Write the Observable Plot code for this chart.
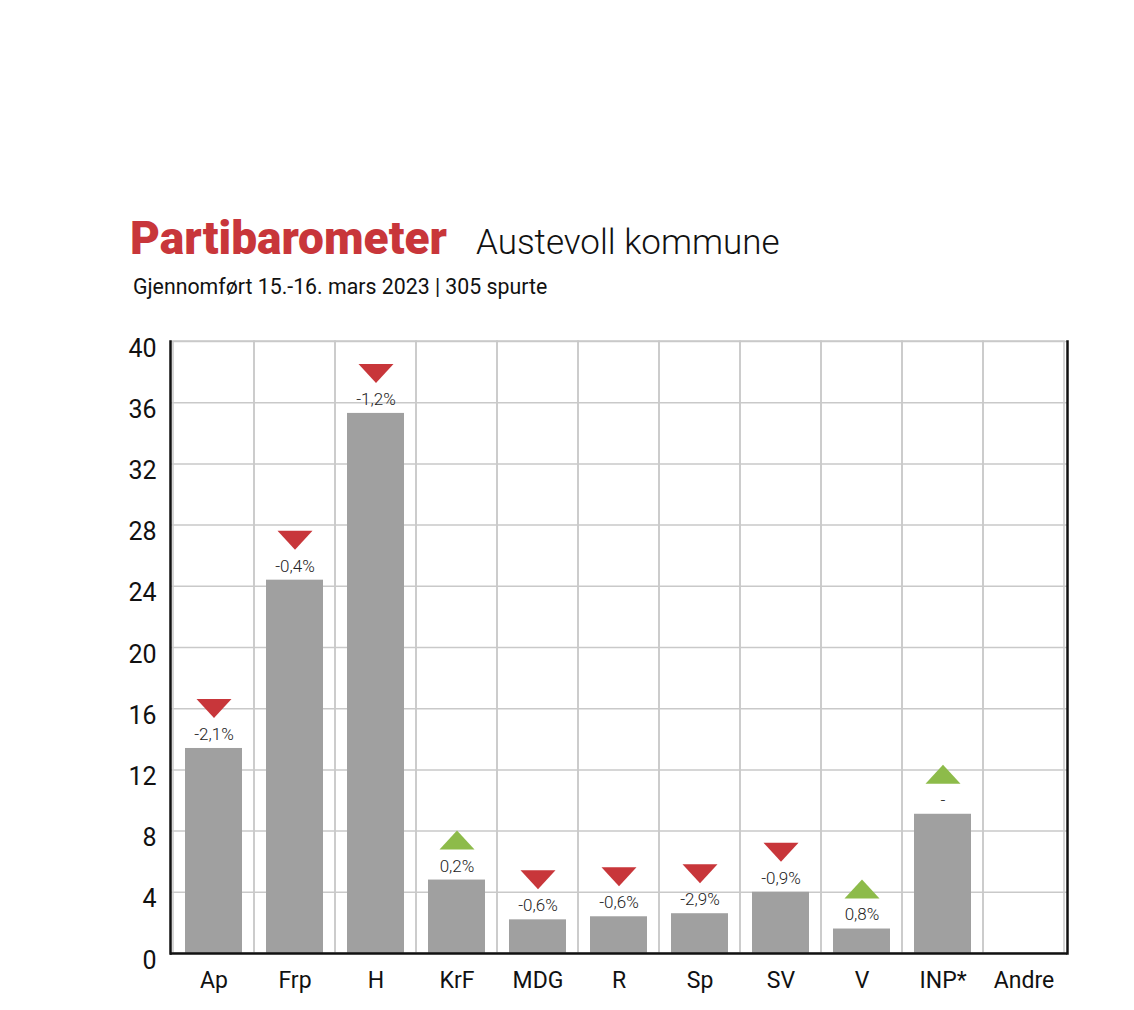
<!DOCTYPE html>
<html><head><meta charset="utf-8">
<script src="https://cdn.jsdelivr.net/npm/d3@7"></script>
<script src="https://cdn.jsdelivr.net/npm/@observablehq/plot@0.6"></script>
<style>
body{margin:0;background:#fff;width:1134px;height:1010px;position:relative;overflow:hidden;font-family:Roboto, sans-serif;color:#111}
#title{position:absolute;left:130px;top:215px;white-space:nowrap;line-height:1}
#title .main{font-size:46px;font-weight:900;color:#c8363a;letter-spacing:0px}
#title .sub{font-size:35px;font-weight:300;color:#111;margin-left:29px}
#subtitle{position:absolute;left:133px;top:276px;font-size:21.3px;line-height:1;color:#111;white-space:nowrap}
#chart{position:absolute;left:0;top:320px}
</style></head><body>
<div id="title"><span class="main">Partibarometer</span><span class="sub">Austevoll kommune</span></div>
<div id="subtitle">Gjennomført 15.-16. mars 2023 | 305 spurte</div>
<div id="chart"></div>
<script>
const parties = ["Ap","Frp","H","KrF","MDG","R","Sp","SV","V","INP*","Andre"];
const shares = [13.4,24.4,35.3,4.8,2.2,2.4,2.6,4.0,1.6,9.1,0];
const changes = ["-2,1%","-0,4%","-1,2%","0,2%","-0,6%","-0,6%","-2,9%","-0,9%","0,8%","-",""];
const directions = ["down","down","down","up","down","down","down","down","up","up",""];
const yTicks = [0,4,8,12,16,20,24,28,32,36,40];

const data = parties.map((p,i)=>({party:p, share:shares[i], change:changes[i], dir:directions[i]}));

const triUp = {draw(ctx){ctx.moveTo(0,-9.5);ctx.lineTo(17.5,9.5);ctx.lineTo(-17.5,9.5);ctx.closePath();}};
const triDown = {draw(ctx){ctx.moveTo(-17.5,-9.5);ctx.lineTo(17.5,-9.5);ctx.lineTo(0,9.5);ctx.closePath();}};

const chart = Plot.plot({
  width: 1134,
  height: 690,
  marginLeft: 170,
  marginRight: 67,
  marginTop: 21,
  marginBottom: 57,
  style: {fontFamily: "Roboto, sans-serif", fontSize: "22px", color: "#111", background: "#fff"},
  x: {type: "band", domain: parties, padding: 0, axis: null},
  y: {domain: [0, 40], axis: null},
  marks: [
    Plot.ruleY(yTicks.filter(t => t > 0), {stroke: "#c9c9c9", strokeWidth: 1.5}),
    Plot.barY(parties, {x: d => d, y1: 0, y2: 40, fill: "none", stroke: "#c9c9c9", strokeWidth: 1.5}),
    Plot.barY(data, {x: "party", y: "share", fill: "#a0a0a0", insetLeft: 12, insetRight: 12}),
    Plot.dot(data.filter(d => d.dir === "down"), {x: "party", y: "share", symbol: triDown, r: 5, fill: "#c8363a", stroke: "none", dy: -40}),
    Plot.dot(data.filter(d => d.dir === "up"), {x: "party", y: "share", symbol: triUp, r: 5, fill: "#8dbb4a", stroke: "none", dy: -40}),
    Plot.text(data, {x: "party", y: "share", text: "change", dy: -14, fontSize: 17, fontWeight: 300, fill: "#222"}),
    Plot.ruleY([0], {stroke: "#111", strokeWidth: 2.5}),
    Plot.frame({anchor: "left", stroke: "#111", strokeWidth: 2.5}),
    Plot.frame({anchor: "right", stroke: "#111", strokeWidth: 2.5}),
    Plot.axisY({ticks: yTicks, tickSize: 0, tickPadding: 14, fontSize: 25, dy: 7, tickFormat: d => d, label: null}),
    Plot.axisX({tickSize: 0, tickPadding: 18, fontSize: 23, label: null})
  ]
});
document.getElementById("chart").appendChild(chart);
</script>
</body></html>
